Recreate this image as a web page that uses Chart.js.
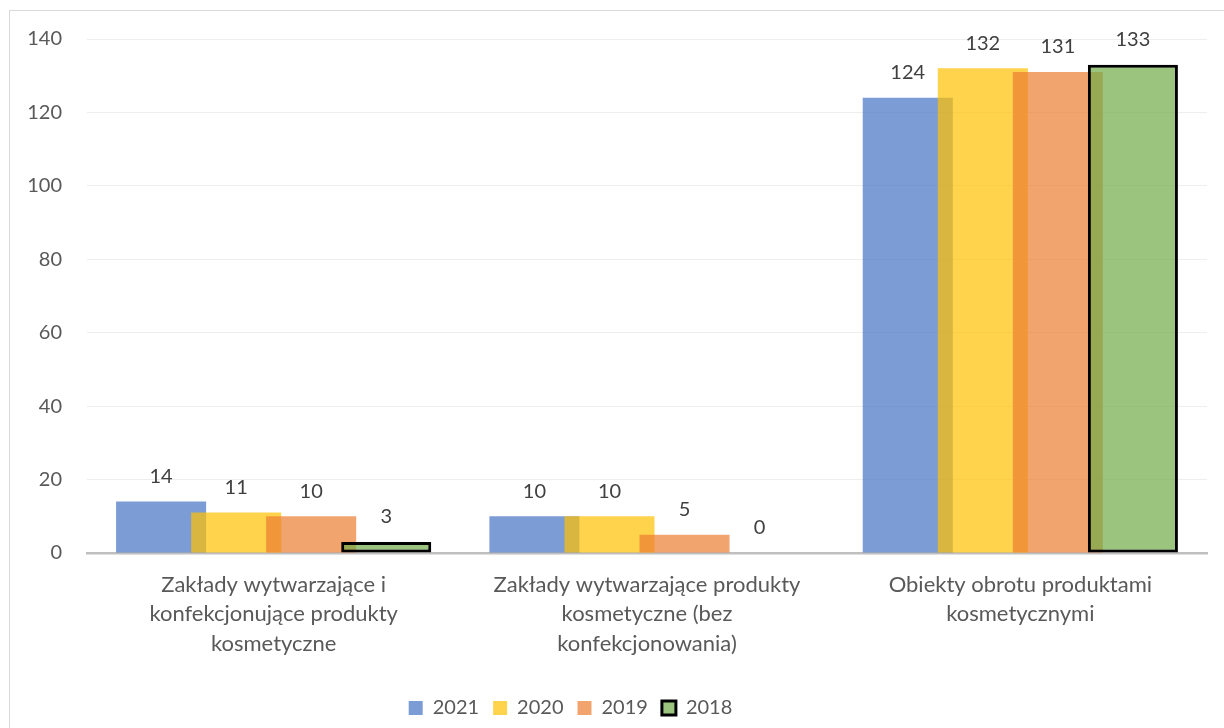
<!DOCTYPE html>
<html>
<head>
<meta charset="utf-8">
<script src="https://cdn.jsdelivr.net/npm/chart.js@4"></script>
<style>
  html, body { margin: 0; padding: 0; background: #fff; overflow: hidden; }
  #frame { position: absolute; left: 9px; top: 10px; width: 1300px; height: 800px; border: 1px solid #d9d9d9; }
  #out { position: absolute; left: 0; top: 0; }
</style>
</head>
<body>
<div id="frame"></div>
<canvas id="out" width="1224" height="728"></canvas>
<script>
// categories (multi-line, as in the original)
const categories = [
  ["Zakłady wytwarzające i", "konfekcjonujące produkty", "kosmetyczne"],
  ["Zakłady wytwarzające produkty", "kosmetyczne (bez", "konfekcjonowania)"],
  ["Obiekty obrotu produktami", "kosmetycznymi"]
];
const years = ["2021", "2020", "2019", "2018"];
const values2021 = [14, 10, 124];
const values2020 = [11, 10, 132];
const values2019 = [10, 5, 131];
const values2018 = [3, 0, 133];
const yTicks = [0, 20, 40, 60, 80, 100, 120, 140];

const FONT = "Lato";
const textGrey = "#595959";

// later series sit on top of earlier ones, like in Excel
const drawForward = {
  id: "drawForward",
  beforeDatasetsDraw(chart) {
    const metas = chart.getSortedVisibleDatasetMetas();
    for (const meta of metas) meta.controller.draw();
    return false;
  }
};

// legend in the original sits a bit left of the centre
const legendShift = {
  id: "legendShift",
  afterLayout(chart) {
    chart.legend.left -= 33;
    chart.legend.right -= 33;
  }
};

// numbers above the bars
const valueLabels = {
  id: "valueLabels",
  afterDraw(chart) {
    const ctx = chart.ctx;
    ctx.save();
    ctx.font = "20px " + FONT;
    ctx.fillStyle = "#404040";
    ctx.textAlign = "center";
    ctx.textBaseline = "middle";
    chart.data.datasets.forEach((ds, i) => {
      chart.getDatasetMeta(i).data.forEach((bar, j) => {
        ctx.fillText(String(ds.data[j]), bar.x, bar.y - 25);
      });
    });
    ctx.restore();
  }
};

const ctx = document.getElementById("out").getContext("2d");

new Chart(ctx, {
  type: "bar",
  data: {
    labels: categories,
    datasets: [
      { label: years[0], data: values2021, backgroundColor: "rgba(68,114,196,0.7)", borderWidth: 0 },
      { label: years[1], data: values2020, backgroundColor: "rgba(255,192,0,0.7)", borderWidth: 0 },
      { label: years[2], data: values2019, backgroundColor: "rgba(237,125,49,0.7)", borderWidth: 0 },
      { label: years[3], data: values2018, backgroundColor: "rgba(112,173,71,0.7)",
        borderColor: "#000000", borderWidth: 3, borderSkipped: false }
    ]
  },
  options: {
    responsive: false,
    animation: false,
    devicePixelRatio: 1,
    categoryPercentage: 0.804,
    barPercentage: 1.2,
    layout: { padding: { left: 0, right: 17, top: 39, bottom: 0 } },
    plugins: {
      tooltip: { enabled: false },
      legend: {
        position: "bottom",
        labels: {
          font: { family: FONT, size: 20 },
          color: textGrey,
          boxWidth: 14,
          boxHeight: 14,
          padding: 14
        }
      }
    },
    scales: {
      x: {
        grid: { display: false },
        border: { display: true, color: "#bfbfbf", width: 2.5 },
        ticks: {
          font: { family: FONT, size: 22, lineHeight: 1.34 },
          color: textGrey,
          padding: 9,
          maxRotation: 0,
          autoSkip: false
        },
        afterFit(scale) { scale.height = 131; }
      },
      y: {
        min: 0,
        max: 140,
        afterBuildTicks(scale) { scale.ticks = yTicks.map(v => ({ value: v })); },
        grid: { color: "#eeeeee", lineWidth: 1, drawTicks: false },
        border: { display: false },
        ticks: {
          font: { family: FONT, size: 20 },
          color: textGrey,
          padding: 25
        },
        afterFit(scale) { scale.width = 87; }
      }
    }
  },
  plugins: [drawForward, legendShift, valueLabels]
});
</script>
</body>
</html>
